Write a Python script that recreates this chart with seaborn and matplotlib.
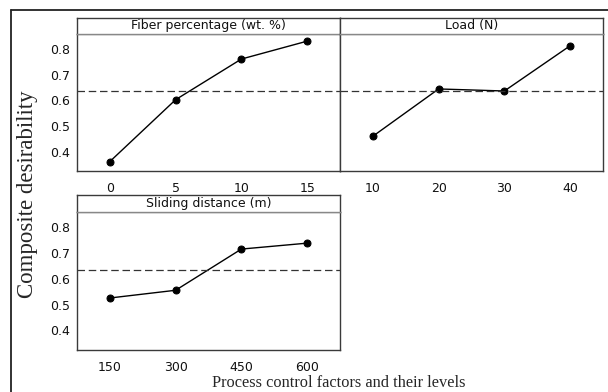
import matplotlib
matplotlib.use("Agg")
import matplotlib.pyplot as plt
import seaborn as sns
import pandas as pd
from matplotlib.lines import Line2D

sns.set_theme(style="white")
plt.rcParams['font.family'] = ['DejaVu Sans']

# Data
fiber_levels = ["0", "5", "10", "15"]
fiber_values = [0.361, 0.603, 0.762, 0.832]
load_levels = ["10", "20", "30", "40"]
load_values = [0.460, 0.645, 0.637, 0.814]
sliding_levels = ["150", "300", "450", "600"]
sliding_values = [0.526, 0.556, 0.716, 0.739]
mean_desirability = 0.636

panel_titles = ["Fiber percentage (wt. %)", "Load (N)", "Sliding distance (m)"]

W, H = 608, 392
fig = plt.figure(figsize=(W / 100, H / 100), dpi=100)

def fx(px):
    return px / W

def fy(py):
    return 1 - py / H

# panel layout in pixels: (left, right, strip_top, plot_top, plot_bottom)
layouts = [
    (77, 340, 18, 34, 171),
    (340, 603, 18, 34, 171),
    (77, 340, 195, 212, 350),
]
datasets = [
    (fiber_levels, fiber_values),
    (load_levels, load_values),
    (sliding_levels, sliding_values),
]
spine_col = "#3a3a3a"

for i, ((l, r, st, pt, pb), (levels, vals), title) in enumerate(zip(layouts, datasets, panel_titles)):
    ax = fig.add_axes([fx(l), fy(pb), fx(r) - fx(l), fy(pt) - fy(pb)])
    df = pd.DataFrame({"level": levels, "value": vals})
    sns.lineplot(data=df, x="level", y="value", ax=ax, color="black", lw=1.0,
                 marker="o", markersize=5, markeredgecolor="black", sort=False)
    ax.axhline(mean_desirability, color="#333333", lw=0.9, ls=(0, (6, 3)))
    ax.set_xlim(-0.5, 3.5)
    ax.set_ylim(0.324, 0.86)
    ax.set_yticks([0.4, 0.5, 0.6, 0.7, 0.8])
    ax.set_xlabel("")
    ax.set_ylabel("")
    for s in ax.spines.values():
        s.set_color(spine_col)
        s.set_linewidth(1.0)
    ax.spines["top"].set_color("#888888")
    ax.tick_params(axis="both", which="both", direction="out", length=3, width=0.8,
                   color=spine_col, labelsize=9, labelcolor="#111111", pad=2)
    ax.tick_params(axis="x", pad=5)
    if i == 1:
        ax.set_yticklabels([])
        ax.tick_params(axis="y", length=0)
    # strip header
    sax = fig.add_axes([fx(l), fy(pt), fx(r) - fx(l), fy(st) - fy(pt)])
    sax.set_xticks([])
    sax.set_yticks([])
    for s in sax.spines.values():
        s.set_color(spine_col)
        s.set_linewidth(1.0)
    sax.spines["bottom"].set_color("#888888")
    sax.set_facecolor("white")
    sax.text(0.5, 0.5, title, ha="center", va="center", fontsize=9,
             transform=sax.transAxes, color="#111111")

# outer frame (left and top edges)
fig.add_artist(Line2D([fx(11), fx(11)], [0, fy(10)], color="#222222", lw=1.3,
                      transform=fig.transFigure))
fig.add_artist(Line2D([fx(11), 1], [fy(10), fy(10)], color="#222222", lw=1.3,
                      transform=fig.transFigure))

fig.text(fx(28), fy(194), "Composite desirability", rotation=90, ha="center", va="center",
         fontsize=16.5, family=["Liberation Serif"])
fig.text(fx(339), fy(383), "Process control factors and their levels", ha="center", va="center",
         fontsize=11.8, family=["Liberation Serif"])

fig.savefig("out.png", dpi=100)
